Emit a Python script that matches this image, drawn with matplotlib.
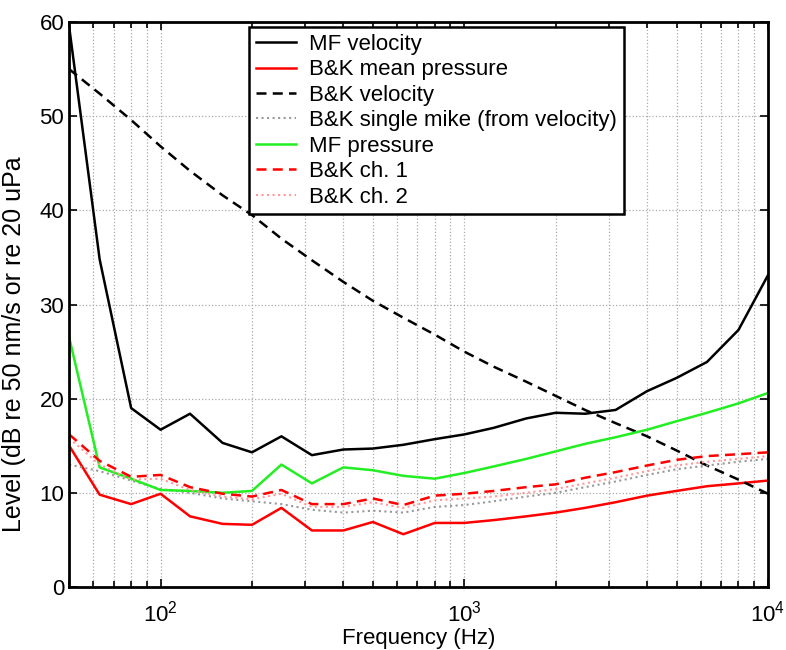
import matplotlib.pyplot as plt
import numpy as np

plt.rcParams['font.family'] = ['Liberation Sans', 'DejaVu Sans']

# third-octave band centre frequencies (Hz)
freq = [50, 63, 80, 100, 125, 160, 200, 250, 315, 400, 500, 630, 800, 1000,
        1250, 1600, 2000, 2500, 3150, 4000, 5000, 6300, 8000, 10000]

mf_velocity = [59.5, 34.8, 19.0, 16.7, 18.4, 15.3, 14.3, 16.0, 14.0, 14.6, 14.7, 15.1,
               15.7, 16.2, 16.9, 17.9, 18.5, 18.4, 18.8, 20.8, 22.2, 23.9, 27.3, 33.1]
bk_mean_pressure = [15.0, 9.8, 8.8, 9.9, 7.5, 6.7, 6.6, 8.4, 6.0, 6.0, 6.9, 5.6,
                    6.8, 6.8, 7.1, 7.5, 7.9, 8.4, 9.0, 9.7, 10.2, 10.7, 11.0, 11.3]
bk_velocity = [55.0, 52.4, 49.6, 46.8, 44.2, 41.6, 39.5, 37.0, 34.7, 32.4, 30.4, 28.6,
               26.8, 25.0, 23.4, 21.8, 20.3, 18.8, 17.4, 16.0, 14.5, 12.9, 11.4, 9.9]
bk_single_mike = [13.0, 12.3, 11.3, 10.4, 10.0, 9.4, 9.1, 8.8, 8.2, 7.9, 8.1, 7.9,
                  8.5, 8.7, 9.1, 9.6, 10.0, 10.6, 11.2, 11.9, 12.5, 12.9, 13.3, 13.6]
mf_pressure = [26.5, 12.7, 11.5, 10.3, 10.2, 10.0, 10.2, 13.0, 11.0, 12.7, 12.4, 11.8,
               11.5, 12.1, 12.8, 13.6, 14.4, 15.2, 15.9, 16.7, 17.6, 18.5, 19.5, 20.6]
bk_ch1 = [16.2, 13.4, 11.7, 11.9, 10.6, 9.9, 9.6, 10.3, 8.8, 8.8, 9.4, 8.7,
          9.7, 9.9, 10.2, 10.6, 10.9, 11.6, 12.2, 12.9, 13.5, 13.9, 14.1, 14.3]
bk_ch2 = [15.8, 13.0, 11.4, 11.5, 10.3, 9.6, 9.3, 9.9, 8.5, 8.5, 9.0, 8.4,
          9.2, 9.4, 9.6, 10.0, 10.4, 11.0, 11.6, 12.3, 12.9, 13.3, 13.6, 13.9]

fig = plt.figure(figsize=(7.86, 6.5), dpi=100)
ax = fig.add_axes([0.088, 0.097, 0.889, 0.869])

ax.plot(freq, mf_velocity, color='black', lw=1.8, label='MF velocity')
ax.plot(freq, bk_mean_pressure, color='red', lw=1.8, label='B&K mean pressure')
ax.plot(freq, bk_velocity, color='black', lw=1.8, ls=(0, (4, 2.5)), label='B&K velocity')
ax.plot(freq, bk_single_mike, color='#999999', lw=1.5, ls=':', label='B&K single mike (from velocity)')
ax.plot(freq, mf_pressure, color='#22ee22', lw=1.8, label='MF pressure')
ax.plot(freq, bk_ch1, color='red', lw=1.8, ls=(0, (4, 2.5)), label='B&K ch. 1')
ax.plot(freq, bk_ch2, color='#ff9999', lw=1.5, ls=':', label='B&K ch. 2')

ax.set_xscale('log')
ax.set_xlim(50, 10000)
ax.set_ylim(0, 60)
ax.set_yticks([0, 10, 20, 30, 40, 50, 60])
ax.set_xticks([100, 1000, 10000])
ax.set_xticklabels(['$\\mathregular{10^2}$', '$\\mathregular{10^3}$', '$\\mathregular{10^4}$'])

ax.grid(True, which='major', color='#aaaaaa', ls=':', lw=0.9)
ax.grid(True, which='minor', axis='x', color='#aaaaaa', ls=':', lw=0.9)
ax.tick_params(which='both', direction='in', top=True, right=True, labelsize=16)
ax.tick_params(axis='x', pad=10)
ax.tick_params(which='major', length=6, width=1.2)
ax.tick_params(which='minor', length=4, width=1.2)
for s in ax.spines.values():
    s.set_linewidth(2)

ax.set_xlabel('Frequency (Hz)', fontsize=16, labelpad=1)
ax.set_ylabel('Level (dB re 50 nm/s or re 20 uPa', fontsize=18)
ax.yaxis.set_label_coords(-0.062, 0.43)

leg = ax.legend(loc='upper left', bbox_to_anchor=(0.2575, 0.991), fontsize=16,
                frameon=True, fancybox=False, edgecolor='black', framealpha=1,
                handlelength=1.8, labelspacing=0.2, borderpad=0.3, handletextpad=0.6,
                borderaxespad=0)
leg.get_frame().set_linewidth(1.8)

fig.savefig('out.png', dpi=100)
